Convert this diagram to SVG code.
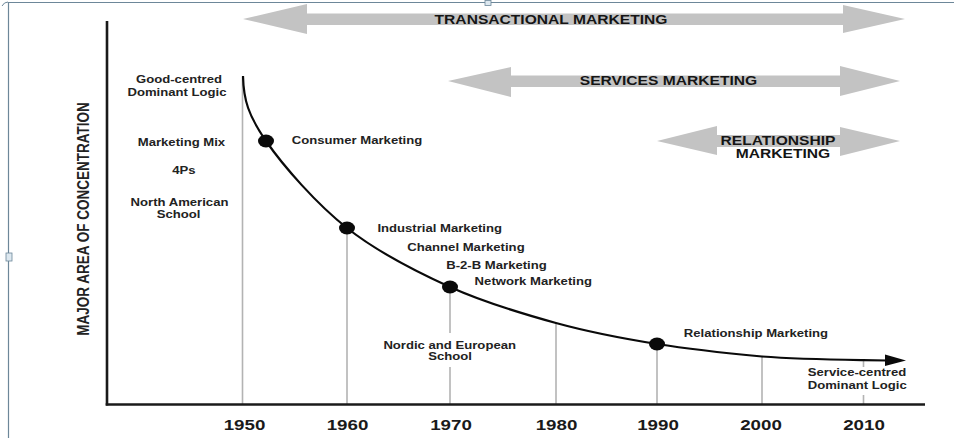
<svg xmlns="http://www.w3.org/2000/svg" width="954" height="438" viewBox="0 0 954 438">
  <style>
    text { font-family: "Liberation Sans", Arial, sans-serif; font-weight: bold; fill: #222; text-anchor: middle; }
    .wide { transform-box: fill-box; transform-origin: center; transform: scaleX(1.25); }
    .lbl { font-size: 10.5px; }
    .era { font-size: 12.5px; fill: #151515; }
    .yr { font-size: 15px; fill: #1a1a1a; }
    .grid { stroke: #b3b3b3; stroke-width: 1.6; fill: none; }
    .axis { stroke: #1a1a1a; stroke-width: 2.6; fill: none; }
    .band { fill: #c3c3c3; }
    .dot { fill: #0a0a0a; }
    .frame { stroke: #6d8799; stroke-width: 1.2; fill: none; }
  </style>

  <rect width="954" height="438" fill="#ffffff"/>

  <!-- page frame -->
  <g id="frame">
    <path class="frame" d="M8.5,438 V2.5 H954"/>
    <rect x="485" y="0.5" width="6" height="5" fill="#dde8f0" stroke="#6d8799" stroke-width="0.8"/>
    <rect x="6" y="253" width="6" height="8" fill="#dde8f0" stroke="#6d8799" stroke-width="0.8"/>
    <path d="M2,6 Q4,2 8,2" stroke="#6d8799" stroke-width="1" fill="none"/>
  </g>

  <!-- marketing era bands -->
  <g id="transactional">
    <polygon class="band" points="243,19 307,4 307,13.5 843,13.5 843,5 905,19 843,33 843,25 307,25 307,34"/>
    <text class="era wide" x="551" y="24">TRANSACTIONAL MARKETING</text>
  </g>
  <g id="services">
    <polygon class="band" points="448,81 511,67 511,75.5 840,75.5 840,66 900,81 840,96 840,87 511,87 511,97"/>
    <text class="era wide" x="668.5" y="85.5">SERVICES MARKETING</text>
  </g>
  <g id="relationship">
    <polygon class="band" points="657,141 717,126 717,135 840,135 840,127 900,141 840,156 840,147 717,147 717,155"/>
    <text class="era wide" x="778" y="145.5">RELATIONSHIP</text>
    <text class="era wide" x="783" y="158.5">MARKETING</text>
  </g>

  <!-- decade drop lines -->
  <g id="grid">
    <line class="grid" x1="242.5" y1="77" x2="242.5" y2="404"/>
    <line class="grid" x1="347" y1="228" x2="347" y2="404"/>
    <line class="grid" x1="450" y1="287" x2="450" y2="333"/>
    <line class="grid" x1="450" y1="367" x2="450" y2="404"/>
    <line class="grid" x1="556" y1="323" x2="556" y2="404"/>
    <line class="grid" x1="657" y1="344" x2="657" y2="404"/>
    <line class="grid" x1="762" y1="357" x2="762" y2="404"/>
    <line class="grid" x1="863.5" y1="360" x2="863.5" y2="367"/>
    <line class="grid" x1="863.5" y1="395" x2="863.5" y2="404"/>
  </g>

  <!-- axes -->
  <g id="axes">
    <line class="axis" x1="107" y1="21" x2="107" y2="405.5"/>
    <line class="axis" x1="105.7" y1="404.5" x2="925" y2="404.5"/>
    <text transform="translate(89 219) rotate(-90) scale(1 1.25)" style="font-size:13.5px" fill="#1a1a1a">MAJOR AREA OF CONCENTRATION</text>
  </g>

  <!-- concentration curve -->
  <g id="connectors">
    <path d="M243,76 C243.5,100 248.5,115.7 266,141 C283.5,166.3 316.3,203.7 347,228 C377.7,252.3 415.2,271.2 450,287 C484.8,302.8 521.5,313.5 556,323 C590.5,332.5 622.7,338.5 657,344 C691.3,349.5 727.7,353.3 762,356.5 C796.3,359 841.7,359.8 863,360.2 L887,360.5" fill="none" stroke="#0a0a0a" stroke-width="2.2"/>
    <polygon points="885,354.5 906,360.5 885,366" fill="#0a0a0a"/>
  </g>

  <!-- starting logic -->
  <g id="goods-logic">
    <text class="lbl wide" x="179" y="83">Good-centred</text>
    <text class="lbl wide" x="177" y="96">Dominant Logic</text>
    <text class="lbl wide" x="181.5" y="146">Marketing Mix</text>
    <text class="lbl wide" x="184" y="174">4Ps</text>
    <text class="lbl wide" x="179.5" y="206.5">North American</text>
    <text class="lbl wide" x="178.5" y="218">School</text>
  </g>

  <g id="consumer">
    <ellipse class="dot" cx="266" cy="141" rx="8" ry="6.5"/>
    <text class="lbl wide" x="357" y="144.5">Consumer Marketing</text>
  </g>

  <g id="industrial">
    <ellipse class="dot" cx="347" cy="228" rx="8" ry="6.5"/>
    <text class="lbl wide" x="439.7" y="232">Industrial Marketing</text>
    <text class="lbl wide" x="466" y="251.5">Channel Marketing</text>
    <text class="lbl wide" x="496.5" y="269">B-2-B Marketing</text>
  </g>

  <g id="network">
    <ellipse class="dot" cx="450" cy="287" rx="8" ry="6.5"/>
    <text class="lbl wide" x="533.3" y="285">Network Marketing</text>
    <text class="lbl wide" x="449.7" y="349.5">Nordic and European</text>
    <text class="lbl wide" x="450" y="360.5">School</text>
  </g>

  <g id="relationship-marketing">
    <ellipse class="dot" cx="657" cy="344" rx="8" ry="6.5"/>
    <text class="lbl wide" x="756" y="337">Relationship Marketing</text>
  </g>

  <g id="service-logic">
    <text class="lbl wide" x="857" y="376.5">Service-centred</text>
    <text class="lbl wide" x="857.3" y="389">Dominant Logic</text>
  </g>

  <!-- decade labels -->
  <g id="years">
    <text class="yr wide" x="244.5" y="430.5">1950</text>
    <text class="yr wide" x="347.5" y="430.5">1960</text>
    <text class="yr wide" x="451" y="430.5">1970</text>
    <text class="yr wide" x="556.5" y="430.5">1980</text>
    <text class="yr wide" x="658" y="430.5">1990</text>
    <text class="yr wide" x="761" y="430.5">2000</text>
    <text class="yr wide" x="864" y="430.5">2010</text>
  </g>
</svg>
